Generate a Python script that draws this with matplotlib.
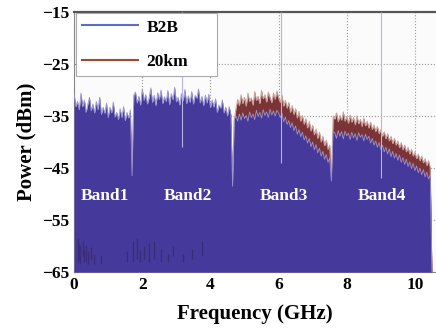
import matplotlib
matplotlib.use("Agg")
import matplotlib.pyplot as plt
import numpy as np

plt.rcParams["font.family"] = ["Liberation Serif", "DejaVu Serif"]
plt.rcParams["font.weight"] = "bold"

STEP = 0.05  # spectrum sampling (GHz)

# band start frequencies (GHz) for the sampled sections
band_start = [0.00, 1.75, 4.70, 7.60]

# B2B trace, dBm, one value per 0.05 GHz
b2b_band1 = [-30.8, -33.2, -32.2, -33.8, -30.6, -33.2, -31.9, -34.3, -32.8, -31.4, -34.0, -32.7, -34.4, -32.2, -33.8, -31.4, -34.7,
             -33.3, -34.5, -32.5, -35.3, -33.3, -34.4, -32.3, -35.2, -34.3, -35.7, -33.6, -35.3, -33.2, -35.9, -34.3, -35.4, -33.8]
b2b_band2 = [-31.0, -30.4, -32.5, -31.2, -32.9, -29.8, -32.0, -30.9, -32.7, -31.5, -29.6, -32.4, -31.0, -33.0, -30.5, -31.8, -30.0,
             -32.6, -31.3, -32.2, -30.1, -32.8, -30.7, -31.9, -29.5, -32.3, -31.4, -32.9, -30.7, -32.1, -29.9, -32.6, -31.1, -32.4,
             -30.3, -32.7, -31.0, -31.6, -29.8, -32.5, -31.2, -33.0, -31.0, -32.5, -30.8, -33.4, -31.9, -33.3, -31.7, -34.3, -32.9,
             -33.5, -31.9, -34.4, -33.3, -35.0, -33.2, -34.7]
b2b_band3 = [-35.6, -35.0, -36.0, -34.6, -35.8, -34.4, -35.5, -34.9, -36.0, -34.2, -35.3, -34.6, -35.7, -33.9, -35.1, -34.3, -35.4,
             -33.8, -34.9, -34.2, -35.3, -33.7, -34.8, -34.0, -35.0, -33.9, -34.4, -35.3, -34.5, -36.1, -35.2, -36.6, -35.9, -37.2,
             -36.3, -37.8, -36.9, -38.5, -37.6, -39.0, -38.1, -39.6, -38.8, -40.2, -39.3, -40.9, -40.0, -41.5, -40.5, -42.1, -41.2,
             -42.7, -41.8, -43.3, -42.4, -43.9, -43.1]
b2b_band4 = [-38.0, -38.2, -39.3, -37.8, -38.9, -38.0, -39.4, -37.9, -38.8, -38.3, -39.5, -38.1, -39.2, -38.4, -39.7, -38.2, -39.1,
             -38.6, -39.8, -38.5, -39.5, -38.9, -40.2, -39.3, -40.6, -39.8, -41.0, -40.1, -41.4, -40.6, -41.9, -41.0, -42.3, -41.3,
             -42.8, -41.8, -43.1, -42.2, -43.5, -42.5, -43.9, -43.0, -44.3, -43.3, -44.7, -43.8, -45.1, -44.1, -45.5, -44.6, -45.9,
             -45.0, -46.3, -45.3, -46.7, -45.8, -47.1, -46.3]

# 20 km trace in bands 3 and 4 (same grid)
km20_band3 = [-35.8, -33.5, -31.8, -33.0, -30.9, -32.6, -31.4, -33.1, -30.6, -32.2, -31.5, -32.9, -30.3, -32.0, -31.2, -32.6, -30.1,
              -31.7, -30.9, -32.3, -30.4, -31.5, -32.4, -30.6, -31.8, -30.2, -31.5, -32.4, -31.0, -33.1, -32.0, -33.5, -32.4, -34.3,
              -33.0, -34.7, -33.6, -35.4, -34.1, -36.0, -34.9, -36.6, -35.5, -37.3, -36.0, -37.9, -36.8, -38.6, -37.5, -39.3, -38.1,
              -40.0, -38.9, -40.7, -39.6, -41.4, -40.6]
km20_band4 = [-35.0, -35.6, -34.4, -36.1, -34.9, -35.8, -34.2, -36.0, -35.1, -36.4, -34.8, -36.2, -35.3, -36.7, -35.0, -36.5, -35.6,
              -37.0, -35.4, -36.9, -36.0, -37.3, -36.2, -37.6, -36.7, -38.0, -37.0, -38.4, -37.6, -38.9, -38.0, -39.4, -38.4, -39.8,
              -38.9, -40.3, -39.3, -40.6, -39.8, -41.1, -40.1, -41.5, -40.6, -41.9, -41.0, -42.3, -41.4, -42.7, -41.9, -43.2, -42.3,
              -43.6, -42.7, -44.0, -43.2, -44.5, -43.6, -44.9]
# 20 km trace in bands 1 and 2 sits under the B2B trace
km20_low_freq = [0.00, 0.40, 0.80, 1.20, 1.60, 1.65, 1.70, 1.75, 1.80, 2.50, 3.20, 3.80, 4.20, 4.60]
km20_low = [-33.5, -34.5, -35.5, -36.5, -37.0, -37.0, -47.0, -33.0, -33.5, -34.0, -34.0, -34.0, -35.5, -36.5]

# notches between bands, and the cut-off at the top end
notch_freq = [1.70, 4.65, 7.55]
notch_b2b = [-46.5, -48.5, -47.5]
notch_20km = [-47.0, -49.0, -47.8]
end_freq = 10.50
end_level = -65.0

# pilot-like spikes (thin lines reaching the top)
spike_freq = [3.18, 6.07, 9.02]
spike_low = [-41.0, -44.0, -47.0]

# dark streaks near the noise floor
floor_freq = [0.10, 0.14, 0.18, 0.25, 0.30, 0.36, 0.42, 0.50, 0.58, 0.78, 1.55, 1.72, 1.85, 1.92, 2.05, 2.2, 2.35, 2.55,
              2.75, 2.9, 3.2, 3.45, 3.75]
floor_top = [-58.5, -59.5, -60.0, -59.0, -60.5, -59.8, -61.0, -60.2, -61.5, -62.0, -61.0, -59.0, -58.5, -60.8, -60.0, -59.5,
             -59.0, -60.5, -61.5, -60.0, -61.5, -60.5, -59.0]
floor_bot = [-63.0, -62.5, -63.5, -62.0, -63.0, -62.8, -63.5, -62.5, -63.5, -63.5, -63.0, -63.0, -62.5, -63.0, -62.5, -63.0,
             -62.5, -63.0, -63.0, -62.0, -63.0, -62.5, -62.0]

band_names = ["Band1", "Band2", "Band3", "Band4"]
band_pos = [0.9, 3.33, 6.17, 9.03]


def grid(start, values):
    return list(np.round(start + STEP * np.arange(len(values)), 3))


b2b_parts = [b2b_band1, b2b_band2, b2b_band3, b2b_band4]
f_b2b, v_b2b = [], []
for i, vals in enumerate(b2b_parts):
    f_b2b += grid(band_start[i], vals)
    v_b2b += vals
    if i < 3:
        f_b2b.append(notch_freq[i])
        v_b2b.append(notch_b2b[i])
f_b2b.append(end_freq)
v_b2b.append(end_level)

f_km = list(km20_low_freq) + [notch_freq[1]]
v_km = list(km20_low) + [notch_20km[1]]
f_km += grid(band_start[2], km20_band3) + [notch_freq[2]]
v_km += km20_band3 + [notch_20km[2]]
f_km += grid(band_start[3], km20_band4) + [end_freq]
v_km += km20_band4 + [end_level]

fig = plt.figure(figsize=(4.36, 3.33), dpi=100)
ax = fig.add_axes([0.170, 0.183, 0.830, 0.781])
ax.set_facecolor("#fbfbfb")

ax.fill_between(f_km, v_km, -65, color="#7a3336", lw=0, zorder=2)
ax.plot(f_km, v_km, color="#cfa09a", lw=0.7, zorder=2.1)
ax.fill_between(f_b2b, v_b2b, -65, color="#45399b", lw=0, zorder=3)
ax.plot(f_b2b, v_b2b, color="#9a94d2", lw=0.6, zorder=3.1)
ax.vlines(spike_freq, spike_low, -15, color="#b8b3e2", lw=0.8, zorder=3.2)
ax.vlines(floor_freq, floor_bot, floor_top, color="#392d7a", lw=0.9, zorder=3.3)

for name, x in zip(band_names, band_pos):
    ax.text(x, -50.3, name, color="white", fontsize=12.5, fontweight="bold",
            ha="center", va="center", zorder=5)

ax.plot([], [], color="#5a6ec8", lw=1.5, label="B2B")
ax.plot([], [], color="#a24a2e", lw=1.5, label="20km")
leg = ax.legend(loc="upper left", bbox_to_anchor=(0.006, 0.75, 0.39, 0.245), mode="expand",
                borderaxespad=0.0, fontsize=12.5,
                handlelength=3.2, handletextpad=0.5, labelspacing=1.05, borderpad=0.35,
                fancybox=False, framealpha=1, edgecolor="#aaaaaa")
leg.get_frame().set_linewidth(0.8)
leg.set_zorder(6)

ax.set_xlim(0, 10.62)
ax.set_ylim(-65, -15)
ax.set_xticks([0, 2, 4, 6, 8, 10])
ax.set_yticks([-15, -25, -35, -45, -55, -65])
ax.tick_params(labelsize=12.5, direction="in", length=3, color="#888888")
ax.grid(True, linestyle=":", color="#999999", lw=0.8, zorder=1)
ax.set_axisbelow(True)

ax.spines["top"].set_color("#555555")
ax.spines["top"].set_linewidth(1.6)
ax.spines["left"].set_color("#888888")
ax.spines["bottom"].set_color("#888888")
ax.spines["right"].set_visible(False)

ax.set_xlabel("Frequency (GHz)", fontsize=15, fontweight="bold", labelpad=8)
ax.set_ylabel("Power (dBm)", fontsize=15, fontweight="bold", labelpad=4)

fig.savefig("out.png", dpi=100)
